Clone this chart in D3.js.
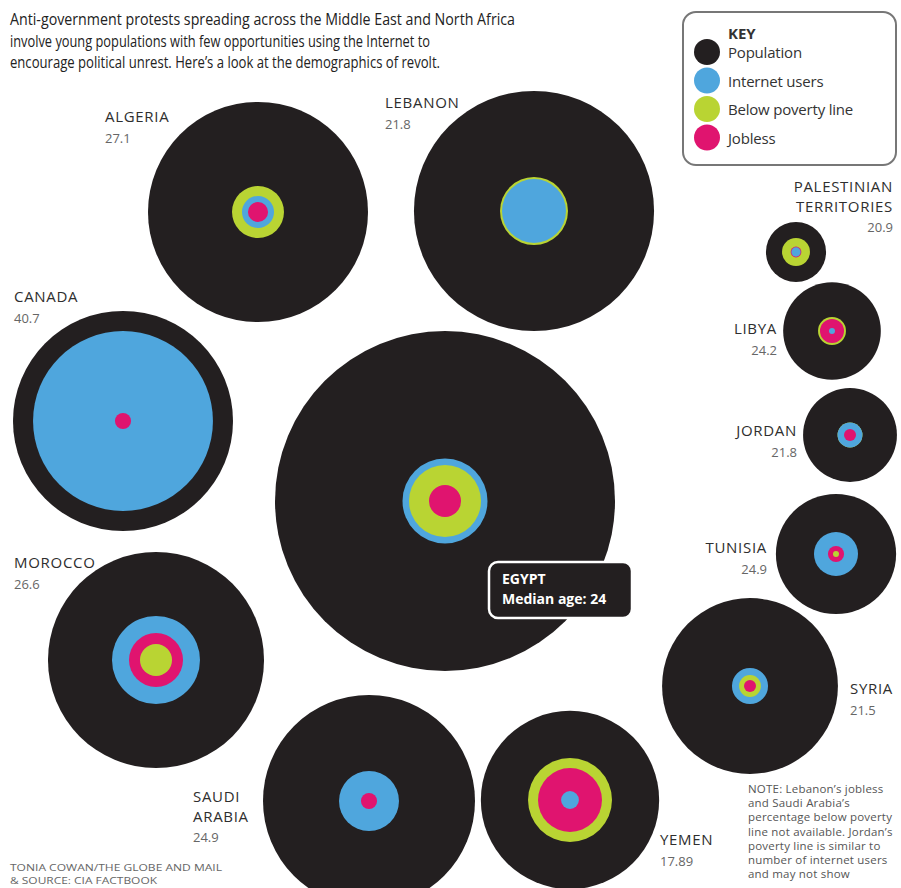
<!DOCTYPE html>
<html>
<head>
<meta charset="utf-8">
<script src="https://cdn.jsdelivr.net/npm/d3@7"></script>
<style>
  body { margin: 0; background: #fff; }
  text { font-family: "Open Sans", Lato, sans-serif; }
</style>
</head>
<body>
<script>
const width = 901, height = 888;

const countries  = ["Algeria", "Lebanon", "Canada", "Egypt", "Morocco", "Saudi Arabia", "Yemen", "Syria", "Palestinian Territories", "Libya", "Jordan", "Tunisia"];
const medianAge  = ["27.1", "21.8", "40.7", "24", "26.6", "24.9", "17.89", "21.5", "20.9", "24.2", "21.8", "24.9"];
const population = [33.5, 39.9, 33.5, 80, 32.3, 31.1, 22, 21.4, 2.5, 6.6, 6.1, 10];
const internet   = [0.71, 2.83, 22.4, 5.0, 5.36, 2.49, 0.22, 0.9, 0.06, 0.025, 0.43, 1.34];
const poverty    = [1.87, 3.2, null, 3.59, 0.71, null, 4.88, 0.33, 0.54, 0.54, 0.43, 0.025];
const jobless    = [0.28, null, 0.18, 0.71, 2.02, 0.18, 2.83, 0.1, 0.08, 0.4, 0.1, 0.18];

const keyLabels = ["Population", "Internet users", "Below poverty line", "Jobless"];
const colors = ["#231f20", "#4fa6dd", "#b9d433", "#e0146f"];

const titleLines = [
  "Anti-government protests spreading across the Middle East and North Africa",
  "involve young populations with few opportunities using the Internet to",
  "encourage political unrest. Here\u2019s a look at the demographics of revolt."
];
const noteLines = [
  "NOTE: Lebanon\u2019s jobless",
  "and Saudi Arabia\u2019s",
  "percentage below poverty",
  "line not available. Jordan\u2019s",
  "poverty line is similar to",
  "number of internet users",
  "and may not show"
];
const sourceLines = ["TONIA COWAN/THE GLOBE AND MAIL", "& SOURCE: CIA FACTBOOK"];

// hand placed bubble centres and label placement
const layout = [
  { x: 258, y: 212, lx: 105, ly: 122, anchor: "start", name: ["ALGERIA"] },
  { x: 534, y: 211, lx: 385, ly: 108, anchor: "start", name: ["LEBANON"] },
  { x: 123, y: 421, lx: 14,  ly: 302, anchor: "start", name: ["CANADA"] },
  { x: 445, y: 501, lx: null },
  { x: 156, y: 660, lx: 14,  ly: 568, anchor: "start", name: ["MOROCCO"] },
  { x: 369, y: 801, lx: 193, ly: 802, anchor: "start", name: ["SAUDI", "ARABIA"] },
  { x: 570, y: 800, lx: 660, ly: 845, anchor: "start", name: ["YEMEN"] },
  { x: 750, y: 686, lx: 850, ly: 694, anchor: "start", name: ["SYRIA"] },
  { x: 796, y: 252, lx: 893, ly: 192, anchor: "end", name: ["PALESTINIAN", "TERRITORIES"] },
  { x: 832, y: 331, lx: 777, ly: 334, anchor: "end", name: ["LIBYA"] },
  { x: 850, y: 435, lx: 797, ly: 436, anchor: "end", name: ["JORDAN"] },
  { x: 836, y: 554, lx: 767, ly: 553, anchor: "end", name: ["TUNISIA"] }
];

const svg = d3.select("body").append("svg")
  .attr("width", width)
  .attr("height", height);

const r = d3.scaleSqrt().domain([0, 80]).range([0, 170]);

// title
svg.append("g").selectAll("text")
  .data(titleLines)
  .join("text")
  .attr("x", 10)
  .attr("y", (d, i) => 25 + i * 21.5)
  .attr("font-size", 15.5)
  .attr("fill", "#222")
  .attr("textLength", (d, i) => [505, 420, 430][i])
  .attr("lengthAdjust", "spacingAndGlyphs")
  .text(d => d);

// bubbles; on equal values the poverty ring goes under the internet ring
const rows = countries.map((c, i) => ({
  name: c,
  age: medianAge[i],
  pos: layout[i],
  rings: [
    { v: poverty[i], c: colors[2] },
    { v: internet[i], c: colors[1] },
    { v: jobless[i], c: colors[3] }
  ].filter(d => d.v != null).sort((a, b) => b.v - a.v),
  pop: population[i]
}));

const bubble = svg.append("g").selectAll("g")
  .data(rows)
  .join("g")
  .attr("transform", d => `translate(${d.pos.x},${d.pos.y})`);

bubble.append("circle")
  .attr("r", d => r(d.pop))
  .attr("fill", colors[0]);

bubble.selectAll("circle.ring")
  .data(d => d.rings)
  .join("circle")
  .attr("class", "ring")
  .attr("r", d => r(d.v))
  .attr("fill", d => d.c);

// labels
const labels = svg.append("g").selectAll("g")
  .data(rows.filter(d => d.pos.lx != null))
  .join("g")
  .attr("text-anchor", d => d.pos.anchor);

labels.each(function (d) {
  const g = d3.select(this);
  d.pos.name.forEach((n, k) => {
    g.append("text")
      .attr("x", d.pos.lx)
      .attr("y", d.pos.ly + k * 19.5)
      .attr("font-family", "'Liberation Sans', Arial, sans-serif")
      .attr("font-size", 15)
      .attr("fill", "#2e2e2e")
      .attr("letter-spacing", 0.7)
      .text(n);
  });
  g.append("text")
    .attr("x", d.pos.lx)
    .attr("y", d.pos.ly + d.pos.name.length * 19.5 + 1)
    .attr("font-size", 13)
    .attr("fill", "#666")
    .text(d.age);
});

// Egypt callout
const egypt = rows[3];
const callout = svg.append("g").attr("transform", "translate(489,562)");
callout.append("rect")
  .attr("width", 143).attr("height", 56).attr("rx", 9)
  .attr("fill", colors[0])
  .attr("stroke", "#fff").attr("stroke-width", 2.5);
callout.append("text")
  .attr("x", 13).attr("y", 22)
  .attr("font-size", 14).attr("font-weight", "bold").attr("fill", "#fff")
  .text(egypt.name.toUpperCase());
callout.append("text")
  .attr("x", 13).attr("y", 42)
  .attr("font-size", 14).attr("font-weight", "bold").attr("fill", "#fff")
  .text("Median age: " + egypt.age);

// key
const key = svg.append("g").attr("transform", "translate(683,12)");
key.append("rect")
  .attr("width", 213).attr("height", 153).attr("rx", 13)
  .attr("fill", "#fff").attr("stroke", "#777").attr("stroke-width", 2);
key.append("text")
  .attr("x", 45).attr("y", 27)
  .attr("font-size", 15).attr("font-weight", "bold").attr("fill", "#333")
  .text("KEY");
const keyRow = key.selectAll("g.k")
  .data(keyLabels)
  .join("g")
  .attr("class", "k")
  .attr("transform", (d, i) => `translate(24,${40 + i * 28.5})`);
keyRow.append("circle").attr("r", 13).attr("fill", (d, i) => colors[i]);
keyRow.append("text")
  .attr("x", 21).attr("y", 6)
  .attr("font-size", 15).attr("fill", "#333")
  .attr("letter-spacing", -0.2)
  .text(d => d);

// note and source
svg.append("g").selectAll("text")
  .data(noteLines)
  .join("text")
  .attr("x", 748)
  .attr("y", (d, i) => 793 + i * 14.2)
  .attr("font-family", "'Liberation Sans', Arial, sans-serif")
  .attr("font-size", 11.5)
  .attr("fill", "#555")
  .attr("letter-spacing", 0.2)
  .text(d => d);

svg.append("g").selectAll("text")
  .data(sourceLines)
  .join("text")
  .attr("x", 10)
  .attr("y", (d, i) => 871 + i * 12.5)
  .attr("font-family", "'Liberation Sans', Arial, sans-serif")
  .attr("font-size", 9.5)
  .attr("fill", "#666")
  .attr("textLength", (d, i) => [212, 147][i])
  .attr("lengthAdjust", "spacingAndGlyphs")
  .text(d => d);
</script>
</body>
</html>
